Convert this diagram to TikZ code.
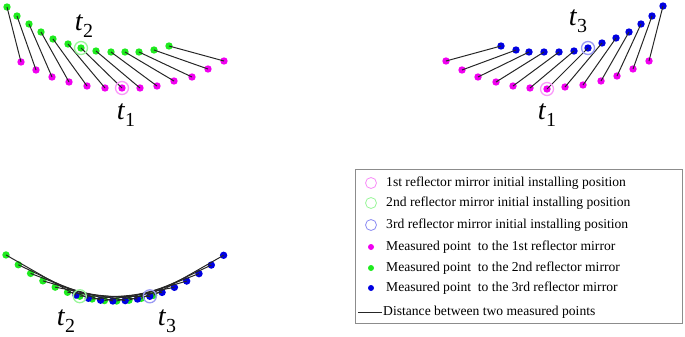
\documentclass[tikz,border=0pt]{standalone}
\usepackage{fontspec}
\setmainfont{Liberation Serif}
\definecolor{PtMagenta}{RGB}{240,0,240}
\definecolor{PtGreen}{RGB}{30,235,30}
\definecolor{PtBlue}{RGB}{0,0,225}
\usetikzlibrary{positioning}
\newcommand{\tlab}[1]{\textit{t}\raisebox{-0.55ex}{\fontsize{17}{17}\selectfont #1}}

\begin{document}
\begin{tikzpicture}[x=0.03cm, y=-0.03cm,
		pt/.style={circle, inner sep=0pt, minimum size=7.4*0.03cm},
		mpt/.style={pt, fill=PtMagenta},
		gpt/.style={pt, fill=PtGreen},
		bpt/.style={pt, fill=PtBlue},
		ring/.style={circle, inner sep=0pt, minimum size=13*0.03cm, line width=1.1pt},
		link/.style={black!85, line width=0.85pt},
		tlabel/.style={font=\fontsize{24}{26}\selectfont},
		legtext/.style={anchor=west, inner sep=0pt, font=\fontsize{11.6}{13}\selectfont}]
	\useasboundingbox (0,0) rectangle (685,336);
	% first and second mirror
	\foreach \i/\gx/\gy/\mx/\my in {0/7/7/21/62, 1/17/16/36/70, 2/29/24/52/77, 3/41/32/69/82,
		4/53/39/87/86, 5/68/44/105/88, 6/81/48/122/88, 7/96/51/140/88, 8/111/52/157/86,
		9/125/52/174/81, 10/139/52/192/77, 11/154/50/208/69, 12/169/46/224/61}{
		\node[gpt] (a\i) at (\gx,\gy) {};
		\node[mpt] (am\i) at (\mx,\my) {};
		\draw[link] (a\i.center) -- (am\i.center);
	}
	\node[ring, draw=PtGreen!45] (ra) at (a6) {};
	\node[ring, draw=PtMagenta!40] (ram) at (am6) {};
	\node[tlabel] (ta2) at (84,26) {\tlab{2}};
	\node[tlabel] (ta1) at (126,115) {\tlab{1}};
	% third and first mirror
	\foreach \i/\bx/\by/\mx/\my in {0/501/46/446/61, 1/516/50/462/70, 2/529/52/478/77, 3/544/52/496/82,
		4/559/52/513/86, 5/574/51/530/88, 6/588/48/547/89, 7/602/43/565/87, 8/616/38/583/85,
		9/629/32/601/81, 10/641/24/617/76, 11/652/16/633/69, 12/663/6/649/61}{
		\node[bpt] (b\i) at (\bx,\by) {};
		\node[mpt] (bm\i) at (\mx,\my) {};
		\draw[link] (b\i.center) -- (bm\i.center);
	}
	\node[ring, draw=PtBlue!40] (rb) at (b6) {};
	\node[ring, draw=PtMagenta!40] (rbm) at (bm6) {};
	\node[tlabel] (tb3) at (578,21) {\tlab{3}};
	\node[tlabel] (tb1) at (547,115) {\tlab{1}};
	% second and third mirror
	\foreach \i in {0,...,12}{
		\pgfmathsetmacro{\gx}{6+12.3*\i}
		\pgfmathsetmacro{\gy}{301-0.00387*(\gx-115)^2}
		\node[gpt] (c\i) at (\gx,\gy) {};
	}
	\foreach \i in {0,...,12}{
		\pgfmathsetmacro{\bx}{76+12.3*\i}
		\pgfmathsetmacro{\by}{301-0.00387*(\bx-115)^2}
		\node[bpt] (cb\i) at (\bx,\by) {};
		\draw[link] (c\i.center) -- (cb\i.center);
	}
	\node[ring, draw=PtGreen!45] (rc) at (c6) {};
	\node[ring, draw=PtBlue!40] (rcb) at (cb6) {};
	\node[tlabel] (tc2) at (66,321) {\tlab{2}};
	\node[tlabel] (tc3) at (167,321) {\tlab{3}};
	% legend
	\node[draw=black!45, line width=0.5pt, inner sep=0pt, minimum width=327*0.03cm,
		minimum height=154*0.03cm, anchor=north west] (leg) at (355,169) {};
	\foreach \k/\y/\col in {1/183/PtMagenta, 2/203/PtGreen, 3/225/PtBlue}{
		\node[ring, minimum size=11*0.03cm, line width=0.7pt, draw=\col!45] (lr\k) at (371,\y) {};
	}
	\foreach \k/\y/\col in {1/247/PtMagenta, 2/268/PtGreen, 3/288/PtBlue}{
		\node[pt, minimum size=6*0.03cm, fill=\col] (lp\k) at (371,\y) {};
	}
	\coordinate (ls) at (358,312);
	\coordinate (le) at (382,312);
	\draw[link] (ls) -- (le);
	\node[legtext] (lt1) at (386,183) {1st reflector mirror initial installing position};
	\node[legtext] (lt2) at (386,203) {2nd reflector mirror initial installing position};
	\node[legtext] (lt3) at (386,225) {3rd reflector mirror initial installing position};
	\node[legtext] (lt4) at (386,247) {Measured point\ \ to the 1st reflector mirror};
	\node[legtext] (lt5) at (386,268) {Measured point\ \ to the 2nd reflector mirror};
	\node[legtext] (lt6) at (386,288) {Measured point\ \ to the 3rd reflector mirror};
	\node[legtext] (lt7) at (383,312) {Distance between two measured points};
\end{tikzpicture}
\end{document}
